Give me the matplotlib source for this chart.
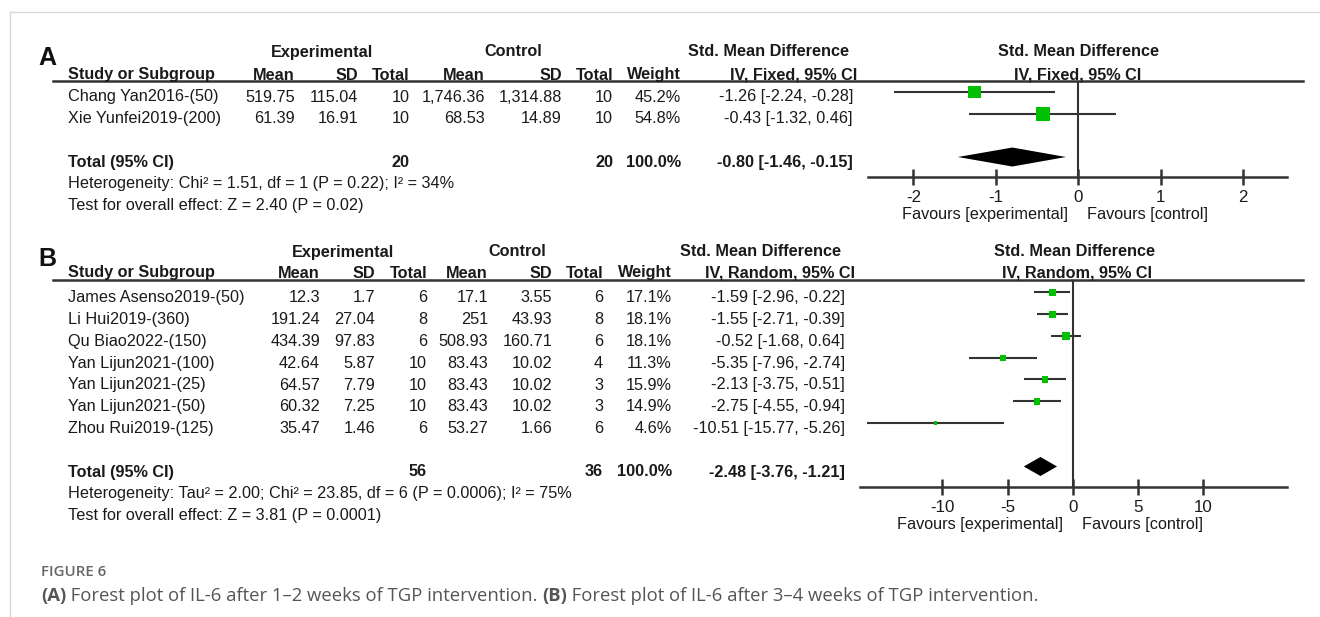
import numpy as np
import matplotlib
matplotlib.use("Agg")
import matplotlib.pyplot as plt
from matplotlib.lines import Line2D

# ---- data: panel A (IL-6, 1-2 weeks, fixed effect) ----
studies_a = ["Chang Yan2016-(50)", "Xie Yunfei2019-(200)"]
exp_mean_a = [519.75, 61.39]
exp_sd_a = [115.04, 16.91]
exp_n_a = [10, 10]
ctl_mean_a = [1746.36, 68.53]
ctl_sd_a = [1314.88, 14.89]
ctl_n_a = [10, 10]
weight_a = [45.2, 54.8]
smd_a = [-1.26, -0.43]
lo_a = [-2.24, -1.32]
hi_a = [-0.28, 0.46]
total_a = dict(n_exp=20, n_ctl=20, smd=-0.80, lo=-1.46, hi=-0.15)
het_a = "Heterogeneity: Chi² = 1.51, df = 1 (P = 0.22); I² = 34%"
test_a = "Test for overall effect: Z = 2.40 (P = 0.02)"
ticks_a = [-2, -1, 0, 1, 2]

# ---- data: panel B (IL-6, 3-4 weeks, random effects) ----
studies_b = ["James Asenso2019-(50)", "Li Hui2019-(360)", "Qu Biao2022-(150)",
             "Yan Lijun2021-(100)", "Yan Lijun2021-(25)", "Yan Lijun2021-(50)",
             "Zhou Rui2019-(125)"]
exp_mean_b = [12.3, 191.24, 434.39, 42.64, 64.57, 60.32, 35.47]
exp_sd_b = [1.7, 27.04, 97.83, 5.87, 7.79, 7.25, 1.46]
exp_n_b = [6, 8, 6, 10, 10, 10, 6]
ctl_mean_b = [17.1, 251, 508.93, 83.43, 83.43, 83.43, 53.27]
ctl_sd_b = [3.55, 43.93, 160.71, 10.02, 10.02, 10.02, 1.66]
ctl_n_b = [6, 8, 6, 4, 3, 3, 6]
weight_b = [17.1, 18.1, 18.1, 11.3, 15.9, 14.9, 4.6]
smd_b = [-1.59, -1.55, -0.52, -5.35, -2.13, -2.75, -10.51]
lo_b = [-2.96, -2.71, -1.68, -7.96, -3.75, -4.55, -15.77]
hi_b = [-0.22, -0.39, 0.64, -2.74, -0.51, -0.94, -5.26]
total_b = dict(n_exp=56, n_ctl=36, smd=-2.48, lo=-3.76, hi=-1.21)
het_b = "Heterogeneity: Tau² = 2.00; Chi² = 23.85, df = 6 (P = 0.0006); I² = 75%"
test_b = "Test for overall effect: Z = 3.81 (P = 0.0001)"
ticks_b = [-10, -5, 0, 5, 10]

W, H = 1320, 617
FONT = "Liberation Sans"
FS = 11.7
TXT = "#1a1a1a"
LN = "#333333"
GREEN = "#00c000"

fig = plt.figure(figsize=(W / 100, H / 100), dpi=100)


def fx(px):
    return px / W


def fy(py):
    return 1 - py / H


def t(x, y, s, ha="left", bold=False, size=FS, color=TXT):
    fig.text(fx(x), fy(y), s, ha=ha, va="center", fontsize=size, family=FONT,
             fontweight="bold" if bold else "normal", color=color)


def hline(y, x0, x1, lw=1.8, color=LN):
    fig.add_artist(Line2D([fx(x0), fx(x1)], [fy(y), fy(y)], lw=lw, color=color,
                          transform=fig.transFigure))


def num(v):
    return format(v, ",")


# light card border
fig.add_artist(Line2D([fx(10), fx(W)], [fy(12), fy(12)], lw=1, color="#d9d9d9",
                      transform=fig.transFigure))
fig.add_artist(Line2D([fx(10), fx(10)], [fy(12), fy(H)], lw=1, color="#d9d9d9",
                      transform=fig.transFigure))


def panel(letter, y_letter, y_group, y_head, y_line, row0, step, cols, studies,
          em, es, en, cm, cs, cn, wt, smd, lo, hi, total, het, test, method,
          ax_box, xlim, ticks, plot_row0, plot_step, size_k, fav_y, head_right_x,
          smd_center, right_center):
    c = cols
    t(38, y_letter, letter, bold=True, size=18, color="#111111")
    t(c["exp"], y_group, "Experimental", ha="center", bold=True)
    t(c["ctl"], y_group, "Control", ha="center", bold=True)
    t(smd_center, y_group, "Std. Mean Difference", ha="center", bold=True)
    t(right_center[0], y_group, "Std. Mean Difference", ha="center", bold=True)
    t(68, y_head, "Study or Subgroup", bold=True)
    for key, lab in [("em", "Mean"), ("es", "SD"), ("en", "Total"),
                     ("cm", "Mean"), ("cs", "SD"), ("cn", "Total"), ("w", "Weight")]:
        t(c[key], y_head, lab, ha="right", bold=True)
    t(head_right_x, y_head, f"IV, {method}, 95% CI", ha="right", bold=True)
    t(right_center[1], y_head, f"IV, {method}, 95% CI", ha="center", bold=True)
    hline(y_line, 53, 1303)

    for i, name in enumerate(studies):
        y = row0 + step * i
        t(68, y, name)
        t(c["em"], y, num(em[i]), ha="right")
        t(c["es"], y, num(es[i]), ha="right")
        t(c["en"], y, str(en[i]), ha="right")
        t(c["cm"], y, num(cm[i]), ha="right")
        t(c["cs"], y, num(cs[i]), ha="right")
        t(c["cn"], y, str(cn[i]), ha="right")
        t(c["w"], y, f"{wt[i]:.1f}%", ha="right")
        t(c["ci"], y, f"{smd[i]:.2f} [{lo[i]:.2f}, {hi[i]:.2f}]", ha="right")
    k = len(studies) + 1
    y = row0 + step * k
    t(68, y, "Total (95% CI)", bold=True)
    t(c["en"], y, str(total["n_exp"]), ha="right", bold=True)
    t(c["cn"], y, str(total["n_ctl"]), ha="right", bold=True)
    t(c["w"], y, "100.0%", ha="right", bold=True)
    t(c["ci"], y, f"{total['smd']:.2f} [{total['lo']:.2f}, {total['hi']:.2f}]",
      ha="right", bold=True)
    t(68, row0 + step * (k + 1), het)
    t(68, row0 + step * (k + 2), test)

    # forest plot
    left, top, right, bottom = ax_box
    ax = fig.add_axes([fx(left), fy(bottom), (right - left) / W, (bottom - top) / H])
    ax.set_xlim(*xlim)
    ax.set_ylim((bottom - plot_row0) / plot_step, (top - plot_row0) / plot_step)
    rows = np.arange(len(studies))
    for i in rows:
        ax.plot([lo[i], hi[i]], [i, i], color=LN, lw=1.5, solid_capstyle="butt", zorder=2)
    side = size_k * np.sqrt(np.array(wt)) * 0.72
    ax.scatter(smd, rows, marker="s", s=side ** 2, color=GREEN, linewidths=0, zorder=3)
    hh = 9.5 / plot_step
    ax.fill([total["lo"], total["smd"], total["hi"], total["smd"]],
            [k, k - hh, k, k + hh], color="black", lw=0, zorder=3)
    ax.axvline(0, color=LN, lw=1.5, zorder=1)
    for sp in ["top", "left", "right"]:
        ax.spines[sp].set_visible(False)
    ax.spines["bottom"].set_color(LN)
    ax.spines["bottom"].set_linewidth(1.8)
    ax.set_yticks([])
    ax.set_xticks(ticks)
    ax.set_xticklabels([str(v) for v in ticks], family=FONT, fontsize=FS + 0.5, color=TXT)
    ax.tick_params(axis="x", direction="inout", length=11, width=1.8, color=LN, pad=4)
    ax.patch.set_alpha(0)
    ax.annotate("Favours [experimental]", xy=(0, 0), xycoords=("data", "axes fraction"),
                xytext=(-10, bottom - fav_y), textcoords="offset pixels",
                ha="right", va="center", family=FONT, fontsize=FS, color=TXT)
    ax.annotate("Favours [control]", xy=(0, 0), xycoords=("data", "axes fraction"),
                xytext=(9, bottom - fav_y), textcoords="offset pixels",
                ha="left", va="center", family=FONT, fontsize=FS, color=TXT)
    return ax


panel("A", 58, 52, 75, 81, 97, 21.67,
      dict(exp=322, ctl=513, em=295, es=358, en=410, cm=485, cs=562, cn=613, w=681, ci=853),
      studies_a, exp_mean_a, exp_sd_a, exp_n_a, ctl_mean_a, ctl_sd_a, ctl_n_a,
      weight_a, smd_a, lo_a, hi_a, total_a, het_a, test_a, "Fixed",
      (868, 81, 1287, 177), (-2.55, 2.53), ticks_a, 92, 21.67, 1.85, 215, 857,
      768, (1078, 1078))

panel("B", 259, 252, 273, 280, 298, 21.75,
      dict(exp=343, ctl=517, em=320, es=375, en=427, cm=488, cs=552, cn=603, w=672, ci=845),
      studies_b, exp_mean_b, exp_sd_b, exp_n_b, ctl_mean_b, ctl_sd_b, ctl_n_b,
      weight_b, smd_b, lo_b, hi_b, total_b, het_b, test_b, "Random",
      (860, 280, 1287, 487), (-16.3, 16.4), ticks_b, 292.5, 21.75, 1.7, 524, 855,
      760, (1074, 1077))

# caption
CAP = "#555555"
fig.text(fx(41), fy(572), "FIGURE 6", ha="left", va="center", fontsize=10.8,
         family="Open Sans", fontweight="semibold", color="#666666")
parts = [("(A)", True), (" Forest plot of IL-6 after 1\u20132 weeks of TGP intervention. ", False),
         ("(B)", True), (" Forest plot of IL-6 after 3\u20134 weeks of TGP intervention.", False)]
fig.canvas.draw()
renderer = fig.canvas.get_renderer()
x = 41
for s, b in parts:
    tx = fig.text(fx(x), fy(596), s, ha="left", va="center", fontsize=13.3,
                  family="Open Sans", fontweight="bold" if b else "normal", color=CAP)
    x += tx.get_window_extent(renderer).width

fig.savefig("out.png", dpi=100)
